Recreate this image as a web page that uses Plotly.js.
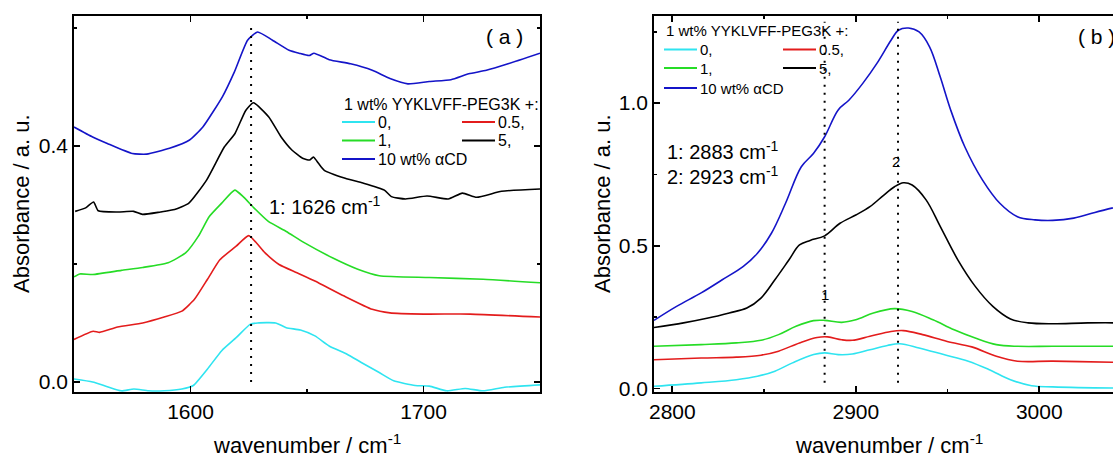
<!DOCTYPE html>
<html>
<head>
<meta charset="utf-8">
<script src="https://cdn.plot.ly/plotly-3.0.1.min.js"></script>
<style>
  html, body { margin: 0; padding: 0; overflow: hidden; background: #fff; }
  #chart { width: 1140px; height: 457px; }
</style>
</head>
<body>
<div id="chart"></div>
<script>
// ---- Amide I region (panel a) ----
const wnA_0   = [1550, 1558, 1564.3, 1570.3, 1575.7, 1582, 1588.7, 1596.3, 1601.2, 1607.3, 1613.4, 1619.6, 1625.7, 1628.8, 1636.5, 1641.1, 1647.2, 1653.4, 1659.5, 1667.2, 1673.3, 1681, 1687.2, 1696.4, 1702.5, 1710, 1717.9, 1725.6, 1734.8, 1750];
const absA_0  = [0.005, 0.0, -0.008, -0.015, -0.012, -0.015, -0.015, -0.012, -0.006, 0.022, 0.053, 0.075, 0.098, 0.100, 0.100, 0.092, 0.088, 0.078, 0.061, 0.047, 0.033, 0.016, 0.002, -0.006, -0.007, -0.015, -0.011, -0.015, -0.009, -0.005];

const wnA_05  = [1550, 1558.2, 1561, 1568.7, 1579.5, 1588.7, 1596.3, 1601.7, 1607.3, 1612.6, 1619.6, 1625, 1631.9, 1638, 1645.7, 1653.4, 1665.7, 1678, 1685.6, 1700, 1720, 1750];
const absA_05 = [0.072, 0.086, 0.084, 0.093, 0.100, 0.110, 0.120, 0.140, 0.174, 0.207, 0.230, 0.248, 0.219, 0.199, 0.185, 0.171, 0.146, 0.123, 0.117, 0.115, 0.115, 0.110];

const wnA_1   = [1550, 1552.5, 1558, 1570.3, 1579.5, 1590.4, 1598, 1603.4, 1608, 1613.4, 1619, 1622.6, 1627.2, 1633.4, 1641.1, 1648.8, 1661.1, 1671.8, 1681, 1702.5, 1725.6, 1750];
const absA_1  = [0.178, 0.183, 0.182, 0.189, 0.194, 0.202, 0.219, 0.247, 0.280, 0.303, 0.325, 0.314, 0.295, 0.272, 0.255, 0.236, 0.210, 0.191, 0.180, 0.177, 0.174, 0.168];

const wnA_5   = [1550.5, 1555, 1558.4, 1560.4, 1568.8, 1575.6, 1579.4, 1587.1, 1593.2, 1599.3, 1606.9, 1614.5, 1619.1, 1623.7, 1627, 1633.6, 1638.9, 1643.5, 1648.1, 1651.1, 1652.7, 1655, 1657.3, 1666.4, 1674, 1683.2, 1686.2, 1692.3, 1701.5, 1710.6, 1716.7, 1722.8, 1733.5, 1750];
const absA_5  = [0.289, 0.295, 0.305, 0.290, 0.288, 0.289, 0.284, 0.288, 0.292, 0.303, 0.342, 0.398, 0.421, 0.460, 0.473, 0.449, 0.415, 0.393, 0.379, 0.376, 0.381, 0.370, 0.359, 0.345, 0.337, 0.325, 0.314, 0.310, 0.315, 0.310, 0.320, 0.313, 0.323, 0.327];

const wnA_cd  = [1550, 1558, 1564.3, 1575, 1581.2, 1591, 1599.6, 1605.3, 1613.8, 1618.8, 1624.5, 1628.8, 1635.2, 1642.3, 1646.6, 1650.9, 1653, 1659.5, 1668.7, 1678, 1685.6, 1693.3, 1702.5, 1711.8, 1719.4, 1727, 1736.3, 1750];
const absA_cd = [0.432, 0.415, 0.404, 0.387, 0.386, 0.396, 0.410, 0.432, 0.484, 0.525, 0.579, 0.593, 0.579, 0.562, 0.557, 0.553, 0.557, 0.546, 0.539, 0.528, 0.514, 0.505, 0.509, 0.512, 0.522, 0.528, 0.539, 0.557];

// ---- C-H stretching region (panel b) ----
const wnB_0   = [2790, 2815.7, 2834.9, 2846.4, 2855.9, 2865.5, 2877, 2883, 2890.4, 2898.1, 2907.7, 2917.2, 2923.9, 2934.5, 2947.9, 2961.3, 2972.8, 2984.3, 2995.8, 3007.3, 3040, 3050];
const absB_0  = [0.008, 0.020, 0.031, 0.043, 0.061, 0.090, 0.119, 0.125, 0.119, 0.121, 0.136, 0.151, 0.157, 0.142, 0.119, 0.096, 0.066, 0.031, 0.010, 0.006, 0.002, 0.002];

const wnB_05  = [2790, 2815.7, 2834.9, 2848.3, 2857.9, 2869.3, 2878.9, 2884.7, 2892.3, 2898.1, 2907.7, 2919.2, 2925.9, 2936.4, 2949.8, 2963.2, 2976.6, 2988.1, 3007.3, 3040, 3050];
const absB_05 = [0.101, 0.107, 0.110, 0.117, 0.131, 0.160, 0.179, 0.181, 0.171, 0.169, 0.183, 0.200, 0.203, 0.189, 0.165, 0.146, 0.113, 0.096, 0.096, 0.092, 0.092];

const wnB_1   = [2790, 2815.7, 2834.9, 2848.3, 2857.9, 2867.4, 2877, 2883, 2892.3, 2900, 2909.6, 2921.1, 2930.7, 2942.1, 2953.6, 2965.1, 2976.6, 2988.1, 3007.3, 3040, 3050];
const absB_1  = [0.148, 0.154, 0.160, 0.169, 0.189, 0.218, 0.238, 0.239, 0.232, 0.241, 0.265, 0.280, 0.270, 0.241, 0.206, 0.177, 0.154, 0.148, 0.148, 0.148, 0.148];

const wnB_5   = [2790, 2806.1, 2819.5, 2831, 2840.6, 2848.3, 2855.9, 2863.6, 2869.3, 2875.1, 2883, 2891.4, 2900, 2907.7, 2915.3, 2921.1, 2925.9, 2930.7, 2938.3, 2946, 2955.6, 2965.1, 2974.7, 2984.3, 2993.9, 3007.3, 3026.4, 3050];
const absB_5  = [0.214, 0.230, 0.247, 0.265, 0.282, 0.317, 0.381, 0.451, 0.503, 0.519, 0.535, 0.579, 0.608, 0.637, 0.678, 0.707, 0.721, 0.713, 0.661, 0.568, 0.451, 0.358, 0.288, 0.244, 0.230, 0.227, 0.230, 0.230];

const wnB_cd  = [2790, 2802.3, 2815.7, 2827.2, 2838.7, 2846.4, 2854, 2861.7, 2870.3, 2877, 2883, 2890.4, 2896.2, 2903.8, 2911.5, 2919.2, 2923.2, 2928.7, 2934.5, 2940.2, 2946, 2951.7, 2959.4, 2969, 2978.5, 2988.1, 2997.7, 3007.3, 3018.8, 3030.3, 3039.5, 3050];
const absB_cd = [0.239, 0.288, 0.335, 0.381, 0.428, 0.474, 0.544, 0.649, 0.777, 0.824, 0.882, 0.976, 1.010, 1.069, 1.139, 1.220, 1.255, 1.263, 1.249, 1.197, 1.092, 0.976, 0.847, 0.731, 0.649, 0.602, 0.591, 0.589, 0.597, 0.617, 0.632, 0.650];

// marked band positions
const peaksA = [1626];
const peaksB = [2883, 2923];

const seriesLabels = ['0,', '0.5,', '1,', '5,', '10 wt% \u03b1CD'];
const seriesColors = ['#2fe4f0', '#e31c1c', '#26dc26', '#000000', '#1414c8'];
const legendTitle = '1 wt% YYKLVFF-PEG3K +:';
const xTitle = 'wavenumber / cm<sup>-1</sup>';
const yTitle = 'Absorbance / a. u.';

const FONT = 'Liberation Sans, Arial, Helvetica, sans-serif';

// figure geometry (pixels)
const W = 1140, H = 457, ML = 74, MR = 9, MT = 16, MB = 65;
const PW = W - ML - MR, PH = H - MT - MB;
const px = v => (v - ML) / PW;
const py = v => (H - MB - v) / PH;

const panelA = [[wnA_0, absA_0], [wnA_05, absA_05], [wnA_1, absA_1], [wnA_5, absA_5], [wnA_cd, absA_cd]];
const panelB = [[wnB_0, absB_0], [wnB_05, absB_05], [wnB_1, absB_1], [wnB_5, absB_5], [wnB_cd, absB_cd]];

const traces = [];
panelA.forEach((s, i) => traces.push({
  x: s[0], y: s[1], xaxis: 'x', yaxis: 'y', mode: 'lines', name: seriesLabels[i],
  line: { color: seriesColors[i], width: 1.6, shape: 'spline', smoothing: 0.5 },
  showlegend: false, hoverinfo: 'skip'
}));
panelB.forEach((s, i) => traces.push({
  x: s[0], y: s[1], xaxis: 'x2', yaxis: 'y2', mode: 'lines', name: seriesLabels[i],
  line: { color: seriesColors[i], width: 1.6, shape: 'spline', smoothing: 1 },
  showlegend: false, hoverinfo: 'skip'
}));

function axisBase() {
  return {
    showline: true, linecolor: '#000', linewidth: 1.8, mirror: 'ticks',
    ticks: 'inside', ticklen: 6, tickwidth: 1.8, tickcolor: '#000',
    showgrid: false, zeroline: false,
    tickfont: { family: FONT, size: 21, color: '#000' }
  };
}

const xaxis = Object.assign(axisBase(), {
  domain: [0, px(540)], range: [1550, 1750], tick0: 1600, dtick: 100, anchor: 'y',
  minor: { ticks: 'inside', ticklen: 3, tickwidth: 1.8, tickcolor: '#000', dtick: 50, tick0: 1550, showgrid: false }
});
const yaxis = Object.assign(axisBase(), {
  domain: [0, 1], range: [-0.017, 0.62], tick0: 0, dtick: 0.4, tickformat: '.1f', anchor: 'x',
  minor: { ticks: 'inside', ticklen: 3, tickwidth: 1.8, tickcolor: '#000', dtick: 0.2, tick0: 0, showgrid: false }
});
const xaxis2 = Object.assign(axisBase(), {
  domain: [px(654), 1], range: [2790, 3050], tick0: 2800, dtick: 100, anchor: 'y2',
  minor: { ticks: 'inside', ticklen: 3, tickwidth: 1.8, tickcolor: '#000', dtick: 50, tick0: 2800, showgrid: false }
});
const yaxis2 = Object.assign(axisBase(), {
  domain: [0, 1], range: [-0.012, 1.305], tick0: 0, dtick: 0.5, tickformat: '.1f', anchor: 'x2',
  minor: { ticks: 'inside', ticklen: 3, tickwidth: 1.8, tickcolor: '#000', dtick: 0.25, tick0: 0, showgrid: false }
});

const shapes = [];
const annotations = [];

// dotted markers at the band positions
peaksA.forEach(p => shapes.push({
  type: 'line', xref: 'x', yref: 'y', x0: p, x1: p, y0: 0, y1: 0.60,
  line: { color: '#000', width: 2, dash: '2px,6px' }
}));
peaksB.forEach(p => shapes.push({
  type: 'line', xref: 'x2', yref: 'y2', x0: p, x1: p, y0: 0.02, y1: 1.285,
  line: { color: '#000', width: 2, dash: '2px,6px' }
}));

// hand-built two-column key
function addKey(x0, titleY, rows, col2, fontSize) {
  annotations.push({
    xref: 'paper', yref: 'paper', x: px(x0), y: py(titleY), xanchor: 'left', yanchor: 'middle',
    text: legendTitle, showarrow: false, font: { family: FONT, size: fontSize, color: '#000' }
  });
  const slots = [[0, 0], [1, 0], [0, 1], [1, 1], [0, 2]];
  slots.forEach((s, i) => {
    const lx = s[0] === 0 ? x0 : col2;
    const ly = rows[s[1]];
    shapes.push({
      type: 'line', xref: 'paper', yref: 'paper', x0: px(lx), x1: px(lx + 33), y0: py(ly), y1: py(ly),
      line: { color: seriesColors[i], width: 1.8 }
    });
    annotations.push({
      xref: 'paper', yref: 'paper', x: px(lx + 34), y: py(ly), xanchor: 'left', yanchor: 'middle',
      text: seriesLabels[i], showarrow: false, font: { family: FONT, size: fontSize, color: '#000' }
    });
  });
}
addKey(342, 105, [122, 140.5, 159], 462, 16);
addKey(664, 31, [49.5, 68, 88], 783, 15);

function label(text, x, y, size, anchor, angle) {
  annotations.push({
    xref: 'paper', yref: 'paper', x: px(x), y: py(y), xanchor: anchor || 'left', yanchor: 'middle',
    text: text, showarrow: false, textangle: angle || 0, font: { family: FONT, size: size, color: '#000' }
  });
}
// axis titles
label(xTitle, 307, 444, 22, 'center');
label(xTitle, 889, 444, 22, 'center');
label(yTitle, 21, 204, 22, 'center', -90);
label(yTitle, 602, 204, 22, 'center', -90);

// panel tags and band assignments
label('( a )', 484, 36, 21);
label('( b )', 1076, 36, 21);
label('1: 1626 cm<sup>-1</sup>', 267, 205, 20);
label('1: 2883 cm<sup>-1</sup>', 665, 150, 20);
label('2: 2923 cm<sup>-1</sup>', 665, 175, 20);

annotations.push({
  xref: 'x2', yref: 'y2', x: peaksB[0], y: 0.329, text: '1', showarrow: false,
  xanchor: 'center', yanchor: 'middle', font: { family: FONT, size: 15, color: '#000' }
});
annotations.push({
  xref: 'x2', yref: 'y2', x: peaksB[1] - 1, y: 0.797, text: '2', showarrow: false,
  xanchor: 'center', yanchor: 'middle', font: { family: FONT, size: 15, color: '#000' }
});

const layout = {
  width: W, height: H,
  margin: { l: ML, r: MR, t: MT, b: MB, pad: 0 },
  paper_bgcolor: '#fff', plot_bgcolor: '#fff',
  font: { family: FONT, color: '#000' },
  showlegend: false,
  xaxis: xaxis, yaxis: yaxis, xaxis2: xaxis2, yaxis2: yaxis2,
  shapes: shapes, annotations: annotations
};

Plotly.newPlot('chart', traces, layout, { staticPlot: true, displayModeBar: false });
</script>
</body>
</html>
